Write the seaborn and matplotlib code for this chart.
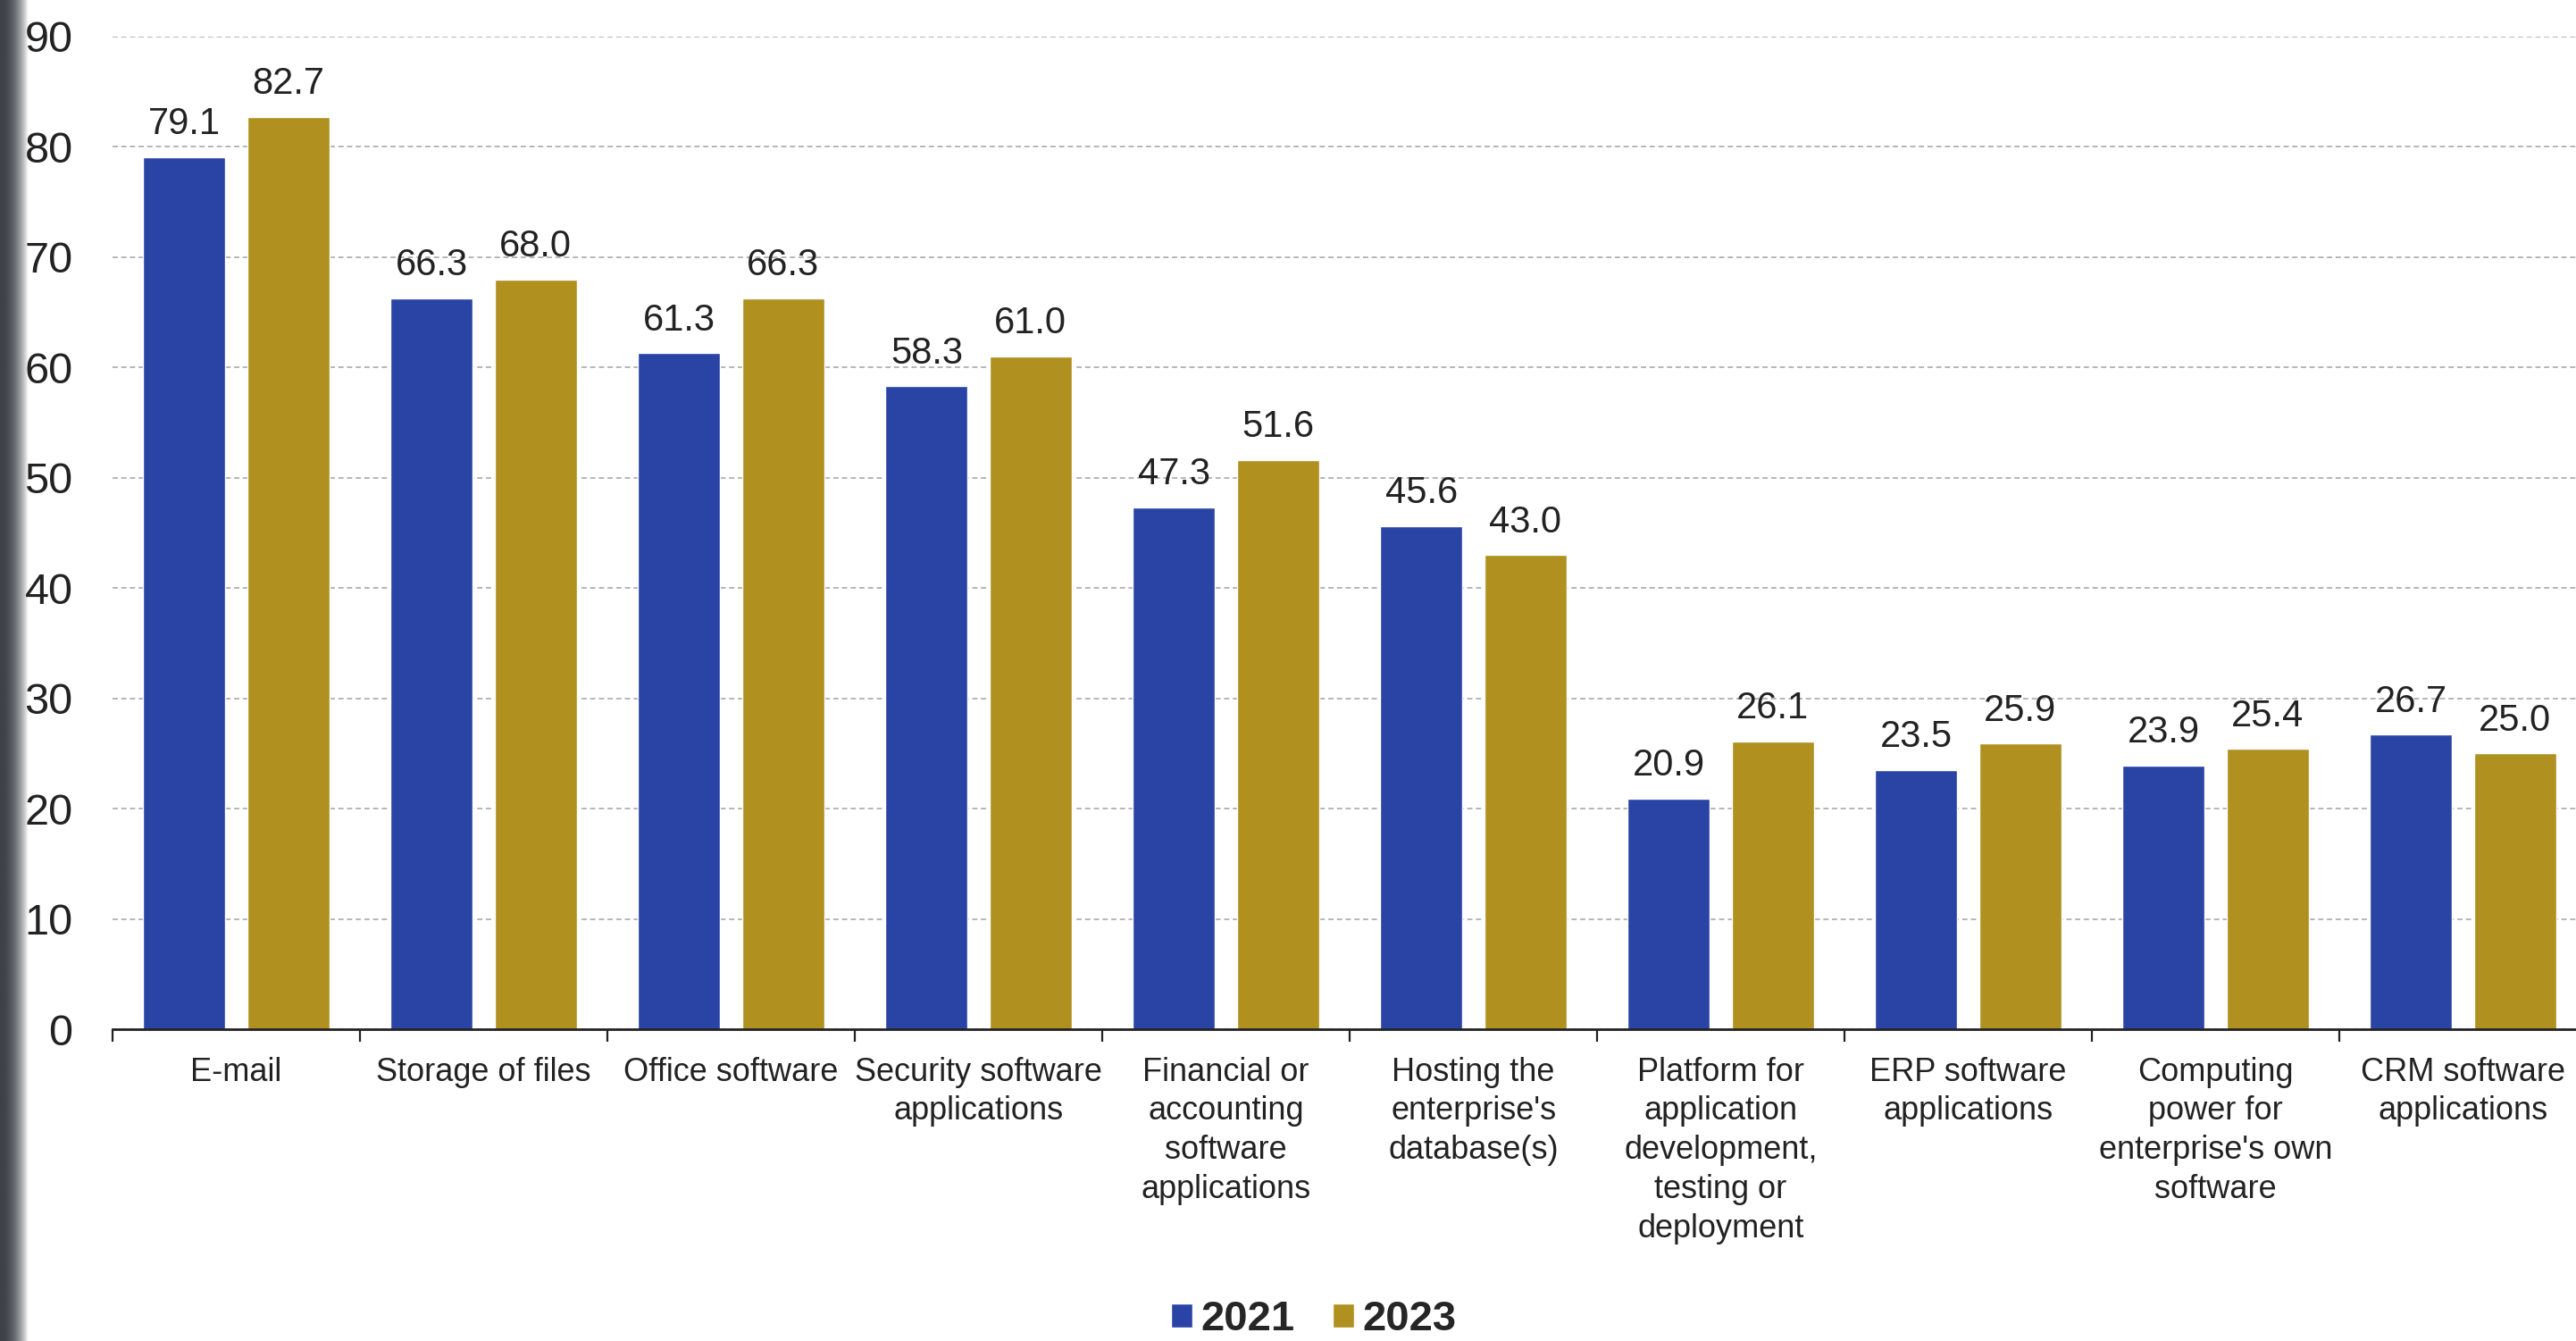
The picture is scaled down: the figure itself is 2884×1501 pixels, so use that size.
import numpy as np
import pandas as pd
import matplotlib
matplotlib.use("Agg")
import matplotlib.pyplot as plt
import seaborn as sns

# Datos del gráfico
categories = [
    "E-mail",
    "Storage of files",
    "Office software",
    "Security software\napplications",
    "Financial or\naccounting\nsoftware\napplications",
    "Hosting the\nenterprise's\ndatabase(s)",
    "Platform for\napplication\ndevelopment,\ntesting or\ndeployment",
    "ERP software\napplications",
    "Computing\npower for\nenterprise's own\nsoftware",
    "CRM software\napplications",
]
years = ["2021", "2023"]
values_2021 = [79.1, 66.3, 61.3, 58.3, 47.3, 45.6, 20.9, 23.5, 23.9, 26.7]
values_2023 = [82.7, 68.0, 66.3, 61.0, 51.6, 43.0, 26.1, 25.9, 25.4, 25.0]
y_ticks = [0, 10, 20, 30, 40, 50, 60, 70, 80, 90]

BLUE = "#2A44A6"
GOLD = "#B0901F"
TEXT = "#222222"

df = pd.DataFrame({
    "category": categories * 2,
    "year": [years[0]] * len(categories) + [years[1]] * len(categories),
    "value": values_2021 + values_2023,
})

sns.set_style("white")
plt.rcParams["font.family"] = ["Liberation Sans", "DejaVu Sans"]

fig = plt.figure(figsize=(28.84, 15.01), dpi=100)

# Franja oscura en el borde izquierdo (debajo de todo)
strip = fig.add_axes([0, 0, 0.011, 1], zorder=-5)
grad = np.linspace(0, 1, 64).reshape(1, -1)
strip.imshow(grad ** 2.2, aspect="auto", cmap=matplotlib.colors.LinearSegmentedColormap.from_list(
    "edge", ["#3e4149", "#ffffff"]), extent=[0, 1, 0, 1])
strip.axis("off")

ax = fig.add_axes([0.0437, 0.2325, 0.9605, 0.7402])
ax.patch.set_alpha(0)

sns.barplot(data=df, x="category", y="value", hue="year", order=categories,
            hue_order=years, palette=[BLUE, GOLD], width=0.84, gap=0.21,
            saturation=1, ax=ax)

for cont in ax.containers:
    ax.bar_label(cont, fmt="%.1f", padding=12, fontsize=30, color=TEXT)

ax.set_ylim(0, 90)
ax.set_xlim(-0.5, len(categories) - 0.5)
ax.set_yticks(y_ticks)
ax.set_xlabel("")
ax.set_ylabel("")

# Cuadrícula punteada
ax.yaxis.grid(True, color="#b5b5b5", linestyle=(0, (3, 2)), linewidth=1.4)
ax.set_axisbelow(True)

for side in ["top", "right", "left"]:
    ax.spines[side].set_visible(False)
ax.spines["bottom"].set_color("#222222")
ax.spines["bottom"].set_linewidth(2)

ax.tick_params(axis="y", length=0, pad=32, labelsize=35, labelcolor=TEXT)
ax.tick_params(axis="x", which="major", length=0, pad=22, labelsize=26, labelcolor=TEXT)
ax.set_xticks(np.arange(-0.5, len(categories), 1), minor=True)
ax.tick_params(axis="x", which="minor", length=10, width=1.6, color="#222222",
               bottom=True, direction="out")
for lbl in ax.get_xticklabels():
    lbl.set_linespacing(1.33)
    lbl.set_verticalalignment("top")

# Leyenda abajo
handles, labels = ax.get_legend_handles_labels()
ax.get_legend().remove()
fig.legend(handles, labels, loc="center", bbox_to_anchor=(0.51, 0.016), ncol=2,
           frameon=False, handlelength=0.5, handleheight=0.5, handletextpad=0.2,
           columnspacing=0.9, prop={"size": 34, "weight": "bold"})

fig.savefig("out.png", dpi=100)
plt.close(fig)
